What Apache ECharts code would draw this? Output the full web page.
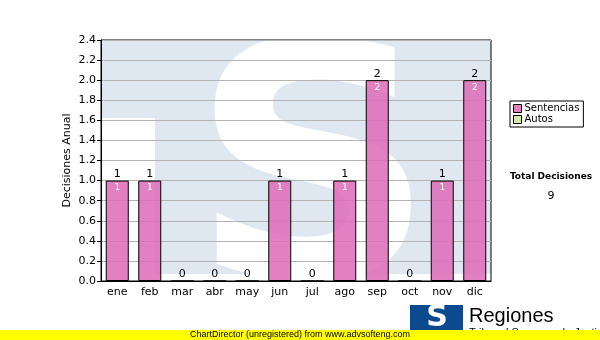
<!DOCTYPE html>
<html><head><meta charset="utf-8">
<script src="https://cdn.jsdelivr.net/npm/echarts@6/dist/echarts.min.js"></script>
<style>html,body{margin:0;padding:0;background:#fff}#c{width:600px;height:340px}</style>
</head><body><div id="c"></div>
<script>
var categories = ['ene','feb','mar','abr','may','jun','jul','ago','sep','oct','nov','dic'];
var sentencias = [1,1,0,0,0,1,0,1,2,0,1,2];
var autos = [];
var yTicks = {min:0, max:2.4, interval:0.2};
var totalLabel = 'Total Decisiones';
var totalValue = '9';

var chart = echarts.init(document.getElementById('c'), null, {renderer:'canvas'});
var F = 'DejaVu Sans';
var wm = '#dfe8f1';
chart.setOption({
  animation:false,
  grid:{left:101,right:109,top:40,bottom:59,show:true,borderColor:'#000',borderWidth:1,backgroundColor:'transparent'},
  legend:{data:['Sentencias','Autos'],orient:'vertical',left:510,top:101,
    borderColor:'#000',borderWidth:1,padding:[2,4,2,3],itemGap:0,itemWidth:8,itemHeight:8,icon:'rect',
    itemStyle:{borderColor:'#000',borderWidth:1},
    textStyle:{fontFamily:F,fontSize:10,color:'#000',lineHeight:11,padding:[0,0,0,-2]}},
  xAxis:{type:'category',data:categories,
    axisLine:{lineStyle:{color:'#000',width:1}},
    axisTick:{alignWithLabel:true,length:4,lineStyle:{color:'#000'}},
    axisLabel:{fontFamily:F,fontSize:11,color:'#000',margin:6},
    splitLine:{show:false}},
  yAxis:{type:'value',min:yTicks.min,max:yTicks.max,interval:yTicks.interval,
    name:'Decisiones Anual',nameLocation:'middle',nameGap:28,nameMoveOverlap:false,
    nameTextStyle:{fontFamily:F,fontSize:11,color:'#000'},
    axisLine:{show:true,lineStyle:{color:'#000'}},
    axisTick:{show:true,length:4,lineStyle:{color:'#000'}},
    axisLabel:{fontFamily:F,fontSize:11,color:'#000',margin:5,formatter:function(v){return v.toFixed(1);}},
    splitLine:{lineStyle:{color:'#b4b4b4',width:1}}},
  series:[
    {name:'Sentencias',type:'bar',data:sentencias,barWidth:23,
      itemStyle:{color:'rgba(222,110,185,0.88)',borderColor:'#000',borderWidth:1},
      label:{show:true,position:'top',distance:1,fontFamily:F,fontSize:11,color:'#000'}},
    {name:'Autos',type:'bar',data:autos,barWidth:23,barGap:'-100%',
      itemStyle:{color:'#d6eaa8',borderColor:'#000',borderWidth:1}},
    {name:'inner',type:'bar',data:sentencias,barWidth:23,barGap:'-100%',z:5,silent:true,
      itemStyle:{color:'transparent',borderWidth:0},
      label:{show:true,position:'insideTop',distance:3,fontFamily:F,fontSize:9,color:'#fff',
        formatter:function(p){return p.value ? String(p.value) : '';}}}
  ],
  graphic:[
    {type:'rect',z:-10,shape:{x:101,y:40,width:390,height:234},style:{fill:wm}},
    {type:'rect',z:-9,shape:{x:101,y:118,width:54,height:163},style:{fill:'#fff'}},
    {type:'text',z:-8,x:313,y:192,scaleX:1.05,style:{text:'S',fontFamily:F,fontWeight:'bold',fontSize:325,fill:'#fff',align:'center',verticalAlign:'middle'}},
    {type:'text',z:10,style:{text:totalLabel,x:551,y:177,fontFamily:F,fontWeight:'bold',fontSize:9,fill:'#000',align:'center',verticalAlign:'middle'}},
    {type:'text',z:10,style:{text:totalValue,x:551,y:196,fontFamily:F,fontSize:11,fill:'#000',align:'center',verticalAlign:'middle'}},
    {type:'rect',z:10,shape:{x:410,y:305,width:53,height:26},style:{fill:'#0b4a8f'}},
    {type:'text',z:11,style:{text:'S',x:437,y:318,fontFamily:F,fontWeight:'bold',fontSize:30,fill:'#fff',align:'center',verticalAlign:'middle'}},
    {type:'text',z:10,style:{text:'Regiones',x:469,y:316,fontFamily:'Liberation Sans',fontSize:20,fill:'#000',align:'left',verticalAlign:'middle'}},
    {type:'text',z:10,style:{text:'Tribunal Supremo de Justicia',x:469,y:327,fontFamily:'Liberation Sans',fontSize:11,fill:'#000',align:'left',verticalAlign:'top'}},
    {type:'rect',z:20,shape:{x:0,y:330,width:600,height:10},style:{fill:'#ffff00'}},
    {type:'text',z:21,style:{text:'ChartDirector (unregistered) from www.advsofteng.com',x:300,y:335,fontFamily:'Liberation Sans',fontSize:9,fill:'#000',align:'center',verticalAlign:'middle'}}
  ]
});
</script></body></html>
